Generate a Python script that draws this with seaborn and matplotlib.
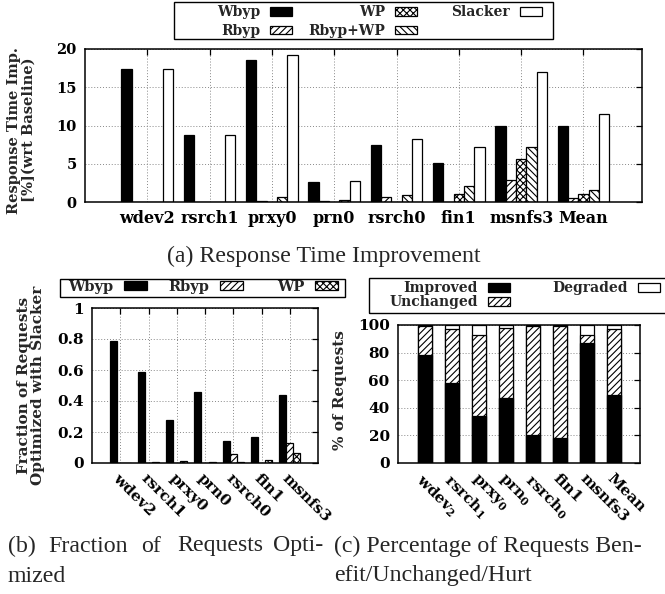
import numpy as np
import pandas as pd
import matplotlib
matplotlib.use("Agg")
import matplotlib.pyplot as plt
from matplotlib.legend import Legend
import seaborn as sns

# ---- (a) response time improvement ----
traces_a = ["wdev2", "rsrch1", "prxy0", "prn0", "rsrch0", "fin1", "msnfs3", "Mean"]
schemes_a = ["Wbyp", "Rbyp", "WP", "Rbyp+WP", "Slacker"]
wbyp_a = [17.4, 8.8, 18.6, 2.6, 7.4, 5.1, 9.95, 10.0]
rbyp_a = [0, 0, 0.1, 0.1, 0.7, 0, 2.85, 0.5]
wp_a = [0, 0, 0, 0.05, 0, 1.1, 5.6, 1.0]
rbyp_wp_a = [0, 0, 0.6, 0.25, 0.85, 2.05, 7.15, 1.55]
slacker_a = [17.4, 8.8, 19.2, 2.8, 8.3, 7.15, 17.0, 11.5]

# ---- (b) fraction of requests optimized ----
traces_b = ["wdev2", "rsrch1", "prxy0", "prn0", "rsrch0", "fin1", "msnfs3"]
schemes_b = ["Wbyp", "Rbyp", "WP"]
wbyp_b = [0.79, 0.59, 0.28, 0.46, 0.14, 0.17, 0.44]
rbyp_b = [0, 0, 0, 0, 0.06, 0, 0.13]
wp_b = [0, 0.004, 0.01, 0.004, 0.004, 0.02, 0.065]

# ---- (c) improved / unchanged / degraded ----
traces_c = [r"wdev$_\mathbf{2}$", r"rsrch$_\mathbf{1}$", r"prxy$_\mathbf{0}$", r"prn$_\mathbf{0}$",
            r"rsrch$_\mathbf{0}$", "fin1", "msnfs3", "Mean"]
outcomes_c = ["Improved", "Unchanged", "Degraded"]
improved_c = [78, 58, 34, 47, 20, 18, 87, 49]
unchanged_c = [21, 39, 59, 51, 79, 81.5, 6, 48]
degraded_c = [1, 3, 7, 2, 1, 0.5, 7, 3]

sns.set_style("white")
plt.rcParams['font.family'] = ['DejaVu Serif']
plt.rcParams['font.weight'] = 'bold'
plt.rcParams['mathtext.fontset'] = 'custom'
plt.rcParams['mathtext.bf'] = 'DejaVu Serif:bold'
plt.rcParams['mathtext.rm'] = 'DejaVu Serif:bold'
plt.rcParams['hatch.linewidth'] = 0.8
plt.rcParams['axes.linewidth'] = 1.1

W, H = 665, 594
fig = plt.figure(figsize=(W / 100, H / 100), dpi=100)


def px_axes(left, right, top, bottom):
    return fig.add_axes([left / W, 1 - bottom / H, (right - left) / W, (bottom - top) / H])


def style_axes(ax, fs):
    ax.tick_params(direction="in", length=4, width=0.9, top=True, right=True,
                   labelsize=fs, pad=6, colors="black")
    ax.grid(True, linestyle=(0, (1, 2)), color="#888888", linewidth=0.7)
    ax.set_axisbelow(True)
    for s in ax.spines.values():
        s.set_color("black")
    ax.set_xlabel("")


def legend_cols(ax, handles, labels, cols, rights, top, box, fs, ls=0.2):
    # gnuplot-like key: right-aligned text followed by the swatch, one legend per column
    for idx, right in zip(cols, rights):
        leg = Legend(ax, [handles[i] for i in idx], [labels[i] for i in idx],
                     loc="upper right", bbox_to_anchor=(right / W, 1 - top / H),
                     bbox_transform=fig.transFigure, markerfirst=False, frameon=False,
                     fontsize=fs, handlelength=1.6, handleheight=0.6, handletextpad=0.7,
                     labelspacing=ls, borderpad=0, borderaxespad=0)
        ax.add_artist(leg)
    x0, x1, y0, y1 = box
    fig.add_artist(plt.Rectangle((x0 / W, 1 - y1 / H), (x1 - x0) / W, (y1 - y0) / H,
                                 transform=fig.transFigure, fill=False,
                                 edgecolor="black", linewidth=1.0))


def long_form(traces, schemes, series):
    rows = []
    for scheme, vals in zip(schemes, series):
        for t, v in zip(traces, vals):
            rows.append({"trace": t, "scheme": scheme, "value": v})
    return pd.DataFrame(rows)


# ---------------- (a) ----------------
ax_a = px_axes(85, 642, 49, 202)
df_a = long_form(traces_a, schemes_a, [wbyp_a, rbyp_a, wp_a, rbyp_wp_a, slacker_a])
sns.barplot(data=df_a, x="trace", y="value", hue="scheme", order=traces_a,
            hue_order=schemes_a, palette=["black", "white", "white", "white", "white"],
            width=0.83, saturation=1, edgecolor="black", linewidth=0.9,
            errorbar=None, legend=False, ax=ax_a)
for cont, hatch in zip(ax_a.containers, [None, "/////", "xxxxx", "\\\\\\\\\\", None]):
    for p in cont:
        p.set_hatch(hatch)
ax_a.set_xlim(-1, 7.94)
ax_a.set_ylim(0, 20)
ax_a.set_yticks([0, 5, 10, 15, 20])
style_axes(ax_a, 10.5)
ax_a.tick_params(axis="x", labelsize=11.5)
ax_a.set_ylabel("Response Time Imp.\n[%](wrt Baseline)", fontsize=10.5, fontweight="bold",
                linespacing=1.05)
ax_a.yaxis.set_label_coords(-0.088, 0.47)
legend_cols(ax_a, list(ax_a.containers), schemes_a, [[0, 1], [2, 3], [4]],
            [292, 417, 542], 5, (174, 553, 2, 39), 10, ls=0.35)

# ---------------- (b) ----------------
ax_b = px_axes(92, 318, 308, 463)
df_b = long_form(traces_b, schemes_b, [wbyp_b, rbyp_b, wp_b])
sns.barplot(data=df_b, x="trace", y="value", hue="scheme", order=traces_b,
            hue_order=schemes_b, palette=["black", "white", "white"],
            width=0.75, saturation=1, edgecolor="black", linewidth=0.9,
            errorbar=None, legend=False, ax=ax_b)
for cont, hatch in zip(ax_b.containers, [None, "/////", "xxxxx"]):
    for p in cont:
        p.set_hatch(hatch)
ax_b.set_xlim(-1, 7)
ax_b.set_ylim(0, 1)
ax_b.set_yticks([0, 0.2, 0.4, 0.6, 0.8, 1.0])
ax_b.set_yticklabels(["0", "0.2", "0.4", "0.6", "0.8", "1"])
style_axes(ax_b, 11)
ax_b.set_xticks(range(len(traces_b)))
ax_b.set_xticklabels(traces_b, rotation=-45, ha="left", va="top", rotation_mode="anchor")
ax_b.set_ylabel("Fraction of Requests\nOptimized with Slacker", fontsize=11,
                fontweight="bold", linespacing=1.0)
ax_b.yaxis.set_label_coords(-0.208, 0.5)
legend_cols(ax_b, list(ax_b.containers), schemes_b, [[0], [1], [2]],
            [147, 243, 338], 280, (60, 345, 279, 297), 10.5)

# ---------------- (c) ----------------
ax_c = px_axes(398, 640, 325, 463)
total_c = [i + u + d for i, u, d in zip(improved_c, unchanged_c, degraded_c)]
imp_unch_c = [i + u for i, u in zip(improved_c, unchanged_c)]
sns.barplot(x=traces_c, y=total_c, color="white", width=0.55, saturation=1,
            edgecolor="black", linewidth=0.9, errorbar=None, ax=ax_c)
sns.barplot(x=traces_c, y=imp_unch_c, color="white", width=0.55, saturation=1,
            edgecolor="black", linewidth=0.9, errorbar=None, hatch="/////", ax=ax_c)
sns.barplot(x=traces_c, y=improved_c, color="black", width=0.55, saturation=1,
            edgecolor="black", linewidth=0.9, errorbar=None, ax=ax_c)
ax_c.set_xlim(-1, 7.96)
ax_c.set_ylim(0, 100)
ax_c.set_yticks([0, 20, 40, 60, 80, 100])
style_axes(ax_c, 11)
ax_c.set_xticks(range(len(traces_c)))
ax_c.set_xticklabels(traces_c, rotation=-45, ha="left", va="top", rotation_mode="anchor")
ax_c.set_ylabel("% of Requests", fontsize=11, fontweight="bold")
ax_c.yaxis.set_label_coords(-0.21, 0.53)
cont_c = ax_c.containers
legend_cols(ax_c, [cont_c[2], cont_c[1], cont_c[0]], outcomes_c, [[0, 1], [2]],
            [510, 660], 281, (369, 670, 278, 313), 10, ls=0.0)

# ---------------- captions ----------------
cap = dict(family="Liberation Serif", fontweight="normal", fontsize=17.2, va="center")
fig.text(324 / W, 1 - 256.5 / H, "(a) Response Time Improvement", ha="center", **cap)
for word, x in zip(["(b)", "Fraction", "of", "Requests", "Opti-"], [8, 48, 141, 177, 273]):
    fig.text(x / W, 1 - 546 / H, word, ha="left", **cap)
fig.text(8 / W, 1 - 576 / H, "mized", ha="left", **cap)
fig.text(334 / W, 1 - 546 / H, "(c) Percentage of Requests Ben-", ha="left", **cap)
fig.text(334 / W, 1 - 576 / H, "efit/Unchanged/Hurt", ha="left", **cap)

fig.savefig("out.png", dpi=100)
